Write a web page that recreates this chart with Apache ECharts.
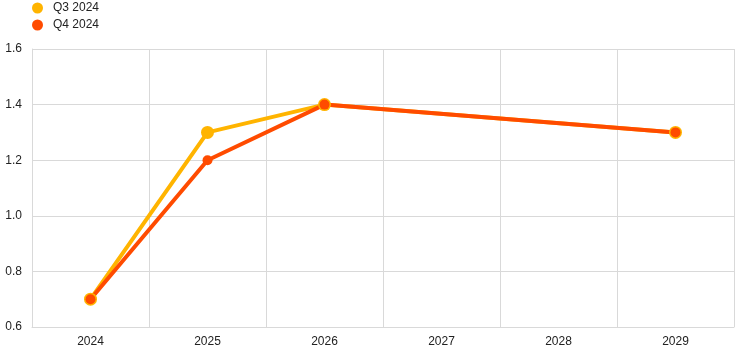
<!DOCTYPE html>
<html>
<head>
<meta charset="utf-8">
<script src="https://cdn.jsdelivr.net/npm/echarts@6/dist/echarts.min.js"></script>
<style>
  html, body { margin: 0; padding: 0; background: #fff; }
  #chart { width: 744px; height: 354px; }
</style>
</head>
<body>
<div id="chart"></div>
<script>
var years = ["2024", "2025", "2026", "2027", "2028", "2029"];
var q3 = [0.7, 1.3, 1.4, null, null, 1.3];
var q4 = [0.7, 1.2, 1.4, null, null, 1.3];
var yTicks = { min: 0.6, max: 1.6, interval: 0.2 };

var myChart = echarts.init(document.getElementById("chart"));
var font = "Liberation Sans, Arial, sans-serif";

var option = {
  animation: false,
  textStyle: { fontFamily: font },
  legend: {
    orient: "vertical",
    left: 27,
    top: -3,
    itemGap: 5,
    itemWidth: 11,
    itemHeight: 11,
    icon: "circle",
    textStyle: { fontSize: 12, color: "#222", fontFamily: font, padding: [0, 0, 0, 5] },
    data: ["Q3 2024", "Q4 2024"]
  },
  grid: { left: 32, right: 10, top: 49, bottom: 27 },
  xAxis: {
    type: "category",
    data: years,
    boundaryGap: true,
    axisLine: { lineStyle: { color: "#d9d9d9" } },
    axisTick: { show: false },
    axisLabel: { color: "#222", fontSize: 12, margin: 9 },
    splitLine: { show: true, lineStyle: { color: "#d9d9d9" } }
  },
  yAxis: {
    type: "value",
    min: yTicks.min,
    max: yTicks.max,
    interval: yTicks.interval,
    axisLine: { show: true, lineStyle: { color: "#d9d9d9" } },
    axisTick: { show: false },
    axisLabel: {
      color: "#222",
      fontSize: 12,
      margin: 10,
      formatter: function (v) { return v.toFixed(1); }
    },
    splitLine: { lineStyle: { color: "#d9d9d9" } }
  },
  series: [
    {
      name: "Q3 2024",
      type: "line",
      data: q3,
      connectNulls: true,
      symbol: "circle",
      symbolSize: 13,
      color: "#ffb400",
      lineStyle: { width: 4 }
    },
    {
      name: "Q4 2024",
      type: "line",
      data: q4,
      connectNulls: true,
      symbol: "circle",
      symbolSize: 10,
      color: "#ff4b00",
      lineStyle: { width: 4 }
    }
  ]
};

myChart.setOption(option);
</script>
</body>
</html>
